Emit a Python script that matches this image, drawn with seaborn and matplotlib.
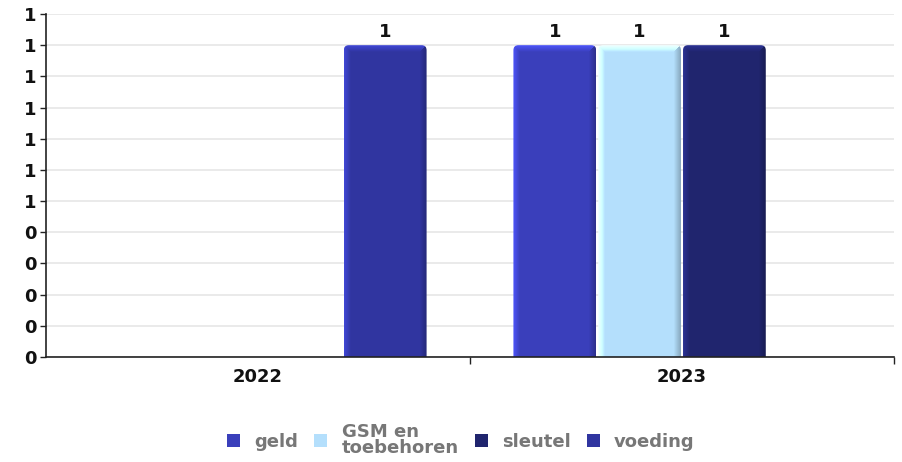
import matplotlib
matplotlib.use("Agg")
import matplotlib.pyplot as plt
import seaborn as sns
import pandas as pd
import numpy as np
from matplotlib.patches import Patch, FancyBboxPatch
import matplotlib.colors as mcolors

years = ["2022", "2023"]
series = ["geld", "GSM en\ntoebehoren", "sleutel", "voeding"]
geld = [0, 1]
gsm = [0, 1]
sleutel = [0, 1]
voeding = [1, 0]
colors = ["#3a3fbb", "#b4dffc", "#20256e", "#3035a0"]
ytick_values = [0, 0.1, 0.2, 0.3, 0.4, 0.5, 0.6, 0.7, 0.8, 0.9, 1.0, 1.1]
ytick_labels = ["0", "0", "0", "0", "0", "1", "1", "1", "1", "1", "1", "1"]

rows = []
for s, vals in zip(series, [geld, gsm, sleutel, voeding]):
    for y, v in zip(years, vals):
        rows.append({"year": y, "series": s, "value": v})
df = pd.DataFrame(rows)

sns.set_theme(style="white")
plt.rcParams["font.family"] = ["DejaVu Sans"]
FS = 13

fig = plt.figure(figsize=(9.03, 4.62), dpi=100)
ax = fig.add_axes([46 / 903, 1 - 357 / 462, (894 - 46) / 903, (357 - 14) / 462])

sns.barplot(data=df, x="year", y="value", hue="series", hue_order=series,
            palette=colors, order=years, width=0.8, dodge=True, ax=ax,
            saturation=1, legend=False, errorbar=None, linewidth=0)

ax.set_xlim(-0.5, 1.5)
ax.set_ylim(0, 1.1)

px_x = 2.0 / 848.0
px_y = 1.1 / 343.0


def scaled(c, f):
    r, g, b = mcolors.to_rgb(c)
    return np.clip(np.array([r, g, b]) * f, 0, 1)


for patch in list(ax.patches):
    h = patch.get_height()
    x0 = patch.get_x()
    w = patch.get_width()
    patch.set_x(x0 + w * 0.012)
    patch.set_width(w * 0.976)
    if h <= 0:
        continue
    base = mcolors.to_rgb(patch.get_facecolor())
    patch.set_facecolor("none")
    xb, wb = patch.get_x(), patch.get_width()
    wpx = wb / px_x
    hpx = h / px_y
    ncols = int(round(wpx))
    nrows = int(round(hpx))
    xs = np.arange(ncols) + 0.5
    ys = np.arange(nrows) + 0.5
    img = np.zeros((nrows, ncols, 3))
    for j in range(nrows):
        for i in range(ncols):
            dl = xs[i]
            dr = wpx - xs[i]
            dt = ys[j]
            if dr < 7 and dr < dt:
                f = 0.75 + 0.25 * dr / 7
            elif dt < 7 and dt <= dl:
                f = 1.0 + 0.35 * (1 - dt / 7)
            elif dl < 7:
                f = 1.0 + 0.35 * (1 - dl / 7)
            else:
                f = 1.0
            img[j, i] = scaled(base, f)
    im = ax.imshow(img, extent=[xb, xb + wb, 0, h], aspect="auto", origin="upper",
                   interpolation="nearest", zorder=patch.get_zorder() + 0.1)
    clip = FancyBboxPatch((xb, -0.05), wb, h + 0.05,
                          boxstyle="round,pad=0,rounding_size=%f" % (5 * px_x),
                          mutation_aspect=px_y / px_x, transform=ax.transData)
    im.set_clip_path(clip)
    ax.text(xb + wb / 2, h + 0.012, "1", ha="center", va="bottom",
            fontsize=FS, fontweight="bold", color="#111111")

ax.set_xlim(-0.5, 1.5)
ax.set_ylim(0, 1.1)
ax.set_yticks(ytick_values)
ax.set_yticklabels(ytick_labels, fontsize=FS, fontweight="bold", color="#111111")
ax.set_xticks([0, 1])
ax.set_xticklabels(years, fontsize=FS, fontweight="bold", color="#111111")
ax.set_xticks([0.5, 1.5], minor=True)
ax.tick_params(axis="x", which="major", length=0, pad=8, bottom=False)
ax.tick_params(axis="x", which="minor", length=5, width=1, color="#222222",
               direction="out", bottom=True)
ax.tick_params(axis="y", length=4, width=1, color="#222222", direction="out",
               left=True, pad=3)
ax.set_xlabel("")
ax.set_ylabel("")
ax.grid(axis="y", color="#e6e6e6", linewidth=1.2)
ax.set_axisbelow(True)
for side in ["top", "right"]:
    ax.spines[side].set_visible(False)
for side in ["left", "bottom"]:
    ax.spines[side].set_color("#222222")
    ax.spines[side].set_linewidth(1.2)

handles = [Patch(facecolor=c, edgecolor="none") for c in colors]
leg = fig.legend(handles, series, loc="center", bbox_to_anchor=(461 / 903, 1 - 440 / 462),
                 ncol=4, frameon=False, handlelength=0.7, handleheight=0.7,
                 handletextpad=0.8, columnspacing=0.9,
                 prop={"weight": "bold", "size": FS})
for t in leg.get_texts():
    t.set_color("#777777")
    t.set_linespacing(0.9)

fig.savefig("out.png", dpi=100)
